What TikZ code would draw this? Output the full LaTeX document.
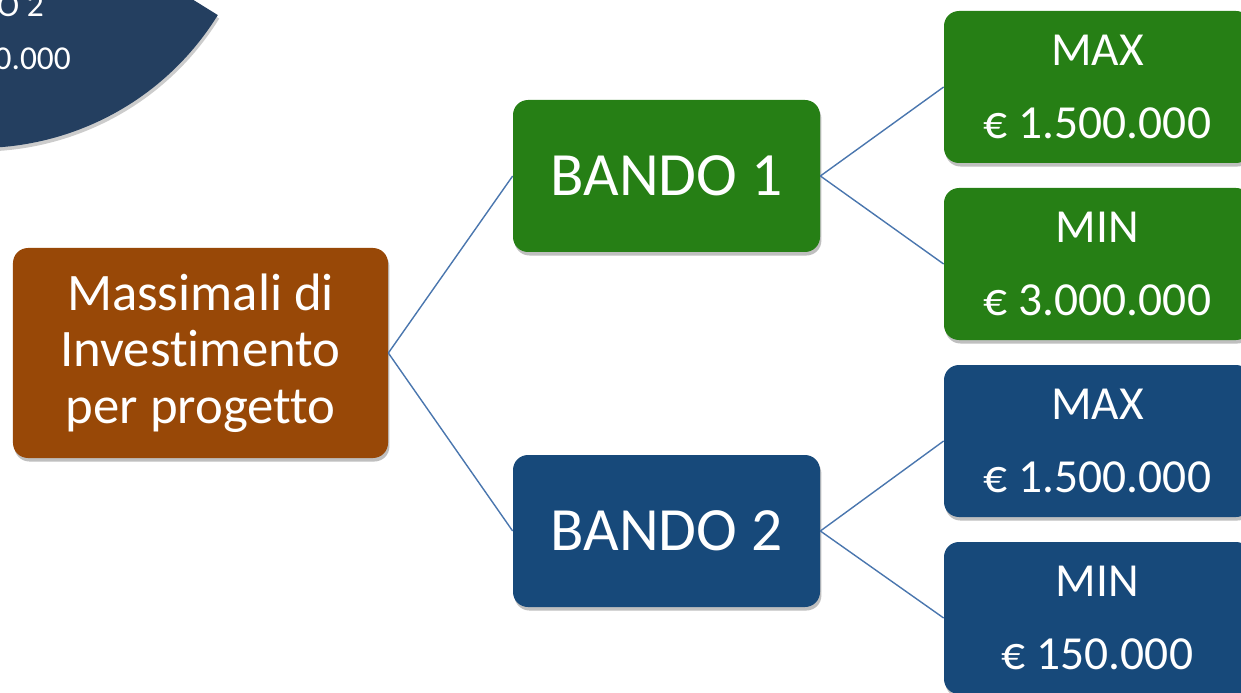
\documentclass[tikz,border=0pt]{standalone}
\usepackage{fontspec}
\setmainfont[Ligatures=NoCommon]{Carlito}
\usetikzlibrary{shadows}

\definecolor{rootbrown}{HTML}{984807}
\definecolor{bandogreen}{HTML}{267F15}
\definecolor{bandoblue}{HTML}{17497A}
\definecolor{piedark}{HTML}{243F60}
\definecolor{linkblue}{HTML}{4A76AE}

\begin{document}
\begin{tikzpicture} [
    box/.style={rounded corners=0.3cm, text=white, align=center, inner sep=0pt,
      drop shadow={shadow xshift=0.8pt, shadow yshift=-2pt, opacity=0.25, fill=black}},
    rootbox/.style={box, fill=rootbrown, minimum width=7.5cm, minimum height=4.2cm, font=\fontsize{30}{32.3}\selectfont},
    bandobox/.style={box, fill=#1, minimum width=6.14cm, minimum height=3.04cm, font=\fontsize{35}{40}\selectfont},
    leafbox/.style={box, fill=#1, minimum width=6.14cm, minimum height=3.04cm, font=\fontsize{27}{41.5}\selectfont},
    link/.style={draw=linkblue, line width=0.8pt}
  ]

\useasboundingbox (0,0) rectangle (24.82,-13.86);
\clip (0,0) rectangle (24.82,-13.86);

% slice of the other chart, cut by the page
\fill [piedark, drop shadow={shadow xshift=0.8pt, shadow yshift=-2pt, opacity=0.2, fill=black}]
  (-0.42,2.66) -- ++(-31.8:5.62) arc [start angle=-31.8, end angle=-180, radius=5.62] -- cycle;
\node [text=white, anchor=base east, font=\fontsize{19}{22}\selectfont] (slicetop) at (1.0,-0.34) {DO 2};
\node [text=white, anchor=base east, font=\fontsize{19}{22}\selectfont] (slicebottom) at (1.54,-1.40) {0.000};

\node [rootbox] (root) at (4.01,-7.06) {Massimali di\\Investimento\\per progetto};

\node [bandobox=bandogreen] (bando1) at (13.33,-3.52) {BANDO 1};
\node [bandobox=bandoblue] (bando2) at (13.33,-10.62) {BANDO 2};

\node [leafbox=bandogreen] (max1) at (21.95,-1.74) {MAX\\€ 1.500.000};
\node [leafbox=bandogreen] (min1) at (21.95,-5.28) {MIN\\€ 3.000.000};
\node [leafbox=bandoblue] (max2) at (21.95,-8.82) {MAX\\€ 1.500.000};
\node [leafbox=bandoblue] (min2) at (21.95,-12.36) {MIN\\€ 150.000};

\draw [link] (root.east) -- (bando1.west);
\draw [link] (root.east) -- (bando2.west);
\draw [link] (bando1.east) -- (max1.west);
\draw [link] (bando1.east) -- (min1.west);
\draw [link] (bando2.east) -- (max2.west);
\draw [link] (bando2.east) -- (min2.west);

\end{tikzpicture}
\end{document}
